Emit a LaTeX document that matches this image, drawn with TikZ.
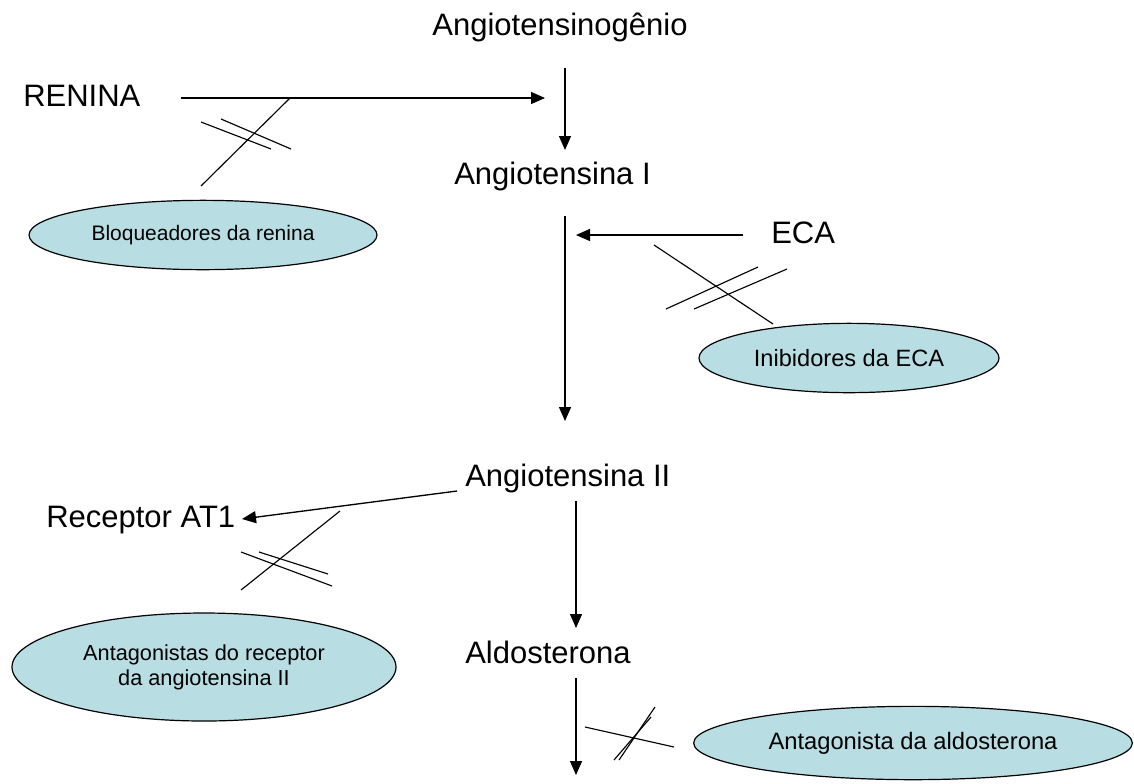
\documentclass[tikz,border=0pt]{standalone}
\usepackage{fontspec}
\setmainfont{Liberation Sans}
\usetikzlibrary{arrows.meta,shapes.geometric}
\definecolor{droga}{RGB}{184,222,227}
\begin{document}
\begin{tikzpicture}[x=0.75pt,y=-0.75pt,
  every node/.style={inner sep=0pt},
  passo/.style={font=\fontsize{23.25}{28}\selectfont},
  farmaco/.style={ellipse,draw=black,fill=droga,line width=0.9pt,align=center},
  seta/.style={line width=1pt,-{Triangle[length=10.5pt,width=9pt]}},
  corte/.style={line width=0.85pt}]
  \useasboundingbox (0,0) rectangle (1134,783);
  % etapas da cascata
  \node[passo,anchor=base] (angen) at (560,35) {Angiotensinogênio};
  \node[passo,anchor=base west] (renina) at (23,106) {RENINA};
  \node[passo,anchor=base west] (ang1) at (454,184) {Angiotensina I};
  \node[passo,anchor=base west] (eca) at (771,243) {ECA};
  \node[passo,anchor=base west] (ang2) at (465,486) {Angiotensina II};
  \node[passo,anchor=base west] (at1) at (46,527) {Receptor AT1};
  \node[passo,anchor=base west] (aldo) at (465,663) {Aldosterona};
  % farmacos
  \node[farmaco,font=\fontsize{15.75}{18}\selectfont,minimum width=261pt,minimum height=52pt] (bloq) at (203,235) {Bloqueadores da renina};
  \node[farmaco,font=\fontsize{17.7}{21}\selectfont,minimum width=225pt,minimum height=52pt] (ieca) at (849,358) {Inibidores da ECA};
  \node[farmaco,font=\fontsize{16.3}{18.75}\selectfont,minimum width=288pt,minimum height=81pt] (bra) at (204,667) {Antagonistas do receptor\\da angiotensina II};
  \node[farmaco,font=\fontsize{17.8}{21}\selectfont,minimum width=329pt,minimum height=55pt] (antaldo) at (913,743) {Antagonista da aldosterona};
  % pontos das setas
  \coordinate (r0) at (181,98);
  \coordinate (r1) at (545,98);
  \coordinate (v0) at (565,68);
  \coordinate (v1) at (565,150);
  \coordinate (v2) at (565,216);
  \coordinate (v3) at (565,421);
  \coordinate (e0) at (743,235);
  \coordinate (e1) at (576,235);
  \coordinate (a0) at (457,491);
  \coordinate (a1) at (242,519);
  \coordinate (v4) at (576,501);
  \coordinate (v5) at (576,628);
  \coordinate (v6) at (576,678);
  \coordinate (v7) at (576,775);
  \draw[seta] (r0) -- (r1);
  \draw[seta] (v0) -- (v1);
  \draw[seta] (v2) -- (v3);
  \draw[seta] (e0) -- (e1);
  \draw[seta] (a0) -- (a1);
  \draw[seta] (v4) -- (v5);
  \draw[seta] (v6) -- (v7);
  % bloqueios
  \draw[corte] (290,98) -- (201,186);
  \draw[corte] (201,122) -- (271,149);
  \draw[corte] (221,119) -- (291,149);
  \draw[corte] (654,245) -- (773,324);
  \draw[corte] (666,309) -- (758,267);
  \draw[corte] (694,309) -- (787,269);
  \draw[corte] (340,511) -- (241,590);
  \draw[corte] (241,552) -- (332,586);
  \draw[corte] (259,552) -- (328,574);
  \draw[corte] (585,727) -- (674,747);
  \draw[corte] (614,760) -- (651,717);
  \draw[corte] (619,760) -- (655,707);
\end{tikzpicture}
\end{document}
